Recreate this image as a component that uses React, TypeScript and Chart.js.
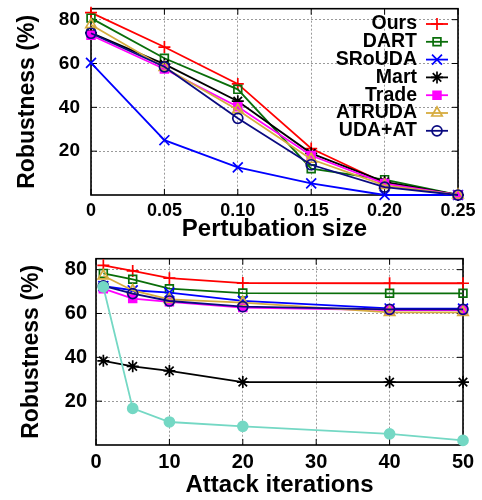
import React, { useEffect, useRef } from 'react';
import { Chart, registerables } from 'chart.js';
import { drawPoint } from 'chart.js/helpers';

Chart.register(...registerables);

const FONT = "'Liberation Sans', Arial, Helvetica, sans-serif";

// ---------- data ----------
const methodNames = ['Ours', 'DART', 'SRoUDA', 'Mart', 'Trade', 'ATRUDA', 'UDA+AT'];

// top chart: robustness vs perturbation size
const perturbSizes = [0, 0.05, 0.1, 0.15, 0.2, 0.25];
const perturbTickLabels = ['0', '0.05', '0.10', '0.15', '0.20', '0.25'];
const oursPerturb = [83.2, 67.5, 50.7, 21.2, 5.5, 0];
const dartPerturb = [80.7, 62.4, 48.2, 12.0, 7.0, 0];
const sroudaPerturb = [60.3, 25.0, 12.6, 5.3, 0, 0];
const martPerturb = [74.0, 59.7, 42.8, 19.0, 6.0, 0];
const tradePerturb = [72.9, 57.5, 40.3, 18.0, 5.2, 0];
const atrudaPerturb = [77.7, 58.2, 38.8, 16.3, 4.4, 0];
const udaAtPerturb = [73.8, 58.5, 35.0, 13.8, 3.6, 0];

// bottom chart: robustness vs attack iterations
const iterations = [1, 5, 10, 20, 40, 50];
const iterTicks = [0, 10, 20, 30, 40, 50];
const oursIter = [82.0, 79.4, 76.1, 73.9, 73.8, 73.8];
const dartIter = [78.3, 75.6, 71.3, 69.3, 69.2, 69.2];
const sroudaIter = [72.5, 70.6, 69.5, 65.8, 62.3, 62.2];
const martIter = [38.4, 35.9, 33.8, 28.7, 28.7, 28.7];
const tradeIter = [71.3, 66.8, 65.3, 62.7, 61.6, 61.6];
const atrudaIter = [77.2, 70.5, 66.4, 65.0, 60.5, 60.5];
const udaAtIter = [72.6, 69.1, 65.7, 63.1, 61.9, 61.9];
const extraIter = [72.1, 16.7, 10.5, 8.5, 5.1, 2.1];

const robustTicks = [20, 40, 60, 80];

// ---------- styles ----------
type Sty = { color: string; style: string; radius: number; fill: string };
const styles: Sty[] = [
  { color: '#ff0000', style: 'cross', radius: 6, fill: 'rgba(0,0,0,0)' },
  { color: '#0a6e0a', style: 'rect', radius: 5.5, fill: 'rgba(0,0,0,0)' },
  { color: '#0000ff', style: 'crossRot', radius: 7, fill: 'rgba(0,0,0,0)' },
  { color: '#000000', style: 'star', radius: 6, fill: 'rgba(0,0,0,0)' },
  { color: '#ff00ff', style: 'rect', radius: 5.5, fill: '#ff00ff' },
  { color: '#d6ac3f', style: 'triangle', radius: 6, fill: 'rgba(0,0,0,0)' },
  { color: '#0a0a80', style: 'circle', radius: 5, fill: 'rgba(0,0,0,0)' },
  { color: '#74d8c4', style: 'circle', radius: 5, fill: '#74d8c4' },
];

function makeDataset(label: string, xs: number[], ys: number[], i: number, n: number) {
  const s = styles[i];
  return {
    label,
    data: xs.map((x, k) => ({ x, y: ys[k] })),
    borderColor: s.color,
    backgroundColor: s.fill,
    borderWidth: 1.8,
    pointStyle: s.style,
    pointRadius: s.radius,
    pointHoverRadius: s.radius,
    pointBorderWidth: 1.7,
    pointBorderColor: s.color,
    pointBackgroundColor: s.fill,
    tension: 0,
    fill: false,
    clip: false,
    order: n - i,
  };
}

// ---------- plugins ----------
const framePlugin = {
  id: 'gnuFrame',
  beforeDatasetsDraw(chart: any) {
    const { ctx, chartArea: a, scales } = chart;
    ctx.save();
    ctx.strokeStyle = '#000';
    ctx.lineWidth = 1.6;
    ctx.strokeRect(a.left, a.top, a.right - a.left, a.bottom - a.top);
    const tl = 6;
    ctx.lineWidth = 1;
    ctx.beginPath();
    scales.x.ticks.forEach((t: any) => {
      const px = scales.x.getPixelForValue(t.value);
      ctx.moveTo(px, a.bottom);
      ctx.lineTo(px, a.bottom - tl);
      ctx.moveTo(px, a.top);
      ctx.lineTo(px, a.top + tl);
    });
    scales.y.ticks.forEach((t: any) => {
      const py = scales.y.getPixelForValue(t.value);
      ctx.moveTo(a.left, py);
      ctx.lineTo(a.left + tl, py);
      ctx.moveTo(a.right, py);
      ctx.lineTo(a.right - tl, py);
    });
    ctx.stroke();
    ctx.restore();
  },
};

const sideLegend = {
  id: 'sideLegend',
  afterDatasetsDraw(chart: any) {
    const { ctx } = chart;
    const textRight = 417;
    const lineL = 426;
    const lineR = 448;
    const y0 = 24;
    const dy = 17.8;
    ctx.save();
    ctx.font = `bold 19.5px ${FONT}`;
    ctx.textAlign = 'right';
    ctx.textBaseline = 'middle';
    chart.data.datasets.forEach((ds: any, i: number) => {
      const y = y0 + i * dy;
      ctx.fillStyle = '#000';
      ctx.fillText(ds.label, textRight, y);
      ctx.strokeStyle = ds.borderColor;
      ctx.lineWidth = ds.borderWidth;
      ctx.beginPath();
      ctx.moveTo(lineL, y);
      ctx.lineTo(lineR, y);
      ctx.stroke();
      ctx.fillStyle = ds.pointBackgroundColor;
      ctx.strokeStyle = ds.pointBorderColor;
      ctx.lineWidth = ds.pointBorderWidth;
      drawPoint(
        ctx,
        { pointStyle: ds.pointStyle, radius: ds.pointRadius, rotation: 0, borderWidth: ds.pointBorderWidth } as any,
        (lineL + lineR) / 2,
        y
      );
    });
    ctx.restore();
  },
};

function scaleOpts(opts: {
  min: number;
  max: number;
  ticks: number[];
  labels?: string[];
  fontSize: number;
  padding: number;
  title: string;
  titleSize: number;
  titlePad: any;
  fit: (s: any) => void;
}) {
  return {
    type: 'linear' as const,
    min: opts.min,
    max: opts.max,
    afterBuildTicks: (s: any) => {
      s.ticks = opts.ticks.map((v) => ({ value: v }));
    },
    afterFit: (s: any) => {
      opts.fit(s);
      s.paddingTop = 0;
      s.paddingBottom = 0;
      s.paddingLeft = 0;
      s.paddingRight = 0;
    },
    ticks: {
      color: '#000',
      padding: opts.padding,
      font: { family: FONT, size: opts.fontSize, weight: 'bold' as const },
      callback: (v: any, i: number) => (opts.labels ? opts.labels[i] : String(v)),
    },
    grid: { color: '#9a9a9a', lineWidth: 1, drawTicks: false },
    border: { display: false, dash: [2, 2] },
    title: {
      display: true,
      text: opts.title,
      color: '#000',
      font: { family: FONT, size: opts.titleSize, weight: 'bold' as const },
      padding: opts.titlePad,
    },
  };
}

function ChartCanvas({ config }: { config: any }) {
  const ref = useRef<HTMLCanvasElement | null>(null);
  useEffect(() => {
    if (!ref.current) return;
    const chart = new Chart(ref.current, config);
    return () => chart.destroy();
  }, [config]);
  return <canvas ref={ref} width={482} height={250} style={{ display: 'block', width: 482, height: 250 }} />;
}

const topSeries = [oursPerturb, dartPerturb, sroudaPerturb, martPerturb, tradePerturb, atrudaPerturb, udaAtPerturb];
const bottomSeries = [oursIter, dartIter, sroudaIter, martIter, tradeIter, atrudaIter, udaAtIter, extraIter];

const topConfig = {
  type: 'line',
  data: {
    datasets: topSeries.map((ys, i) => makeDataset(methodNames[i], perturbSizes, ys, i, topSeries.length)),
  },
  options: {
    responsive: false,
    animation: false,
    devicePixelRatio: 1,
    layout: { padding: { top: 5, right: 24, bottom: 0, left: 0 } },
    plugins: { legend: { display: false }, tooltip: { enabled: false } },
    scales: {
      x: scaleOpts({
        min: 0,
        max: 0.25,
        ticks: perturbSizes,
        labels: perturbTickLabels,
        fontSize: 18,
        padding: 5,
        title: 'Pertubation size',
        titleSize: 24,
        titlePad: { top: 0, bottom: 6 },
        fit: (s: any) => {
          s.height = 55;
        },
      }),
      y: scaleOpts({
        min: 0,
        max: 85,
        ticks: robustTicks,
        fontSize: 19,
        padding: 11,
        title: 'Robustness (%)',
        titleSize: 23,
        titlePad: { top: 14, bottom: 0 },
        fit: (s: any) => {
          s.width = 91;
        },
      }),
    },
  },
  plugins: [framePlugin, sideLegend],
};

const bottomConfig = {
  type: 'line',
  data: {
    datasets: bottomSeries.map((ys, i) =>
      makeDataset(i < methodNames.length ? methodNames[i] : '', iterations, ys, i, bottomSeries.length)
    ),
  },
  options: {
    responsive: false,
    animation: false,
    devicePixelRatio: 1,
    layout: { padding: { top: 5, right: 19, bottom: 0, left: 0 } },
    plugins: { legend: { display: false }, tooltip: { enabled: false } },
    scales: {
      x: scaleOpts({
        min: 0,
        max: 50,
        ticks: iterTicks,
        fontSize: 20,
        padding: 5,
        title: 'Attack iterations',
        titleSize: 24,
        titlePad: { top: 0, bottom: 0 },
        fit: (s: any) => {
          s.height = 55;
        },
      }),
      y: scaleOpts({
        min: 0,
        max: 85,
        ticks: robustTicks,
        fontSize: 20,
        padding: 9,
        title: 'Robustness (%)',
        titleSize: 23,
        titlePad: { top: 18, bottom: 0 },
        fit: (s: any) => {
          s.width = 96;
        },
      }),
    },
  },
  plugins: [framePlugin],
};

export default function App() {
  return (
    <div style={{ position: 'absolute', left: 0, top: 0, width: 482, height: 500, background: '#fff' }}>
      <ChartCanvas config={topConfig} />
      <ChartCanvas config={bottomConfig} />
    </div>
  );
}
